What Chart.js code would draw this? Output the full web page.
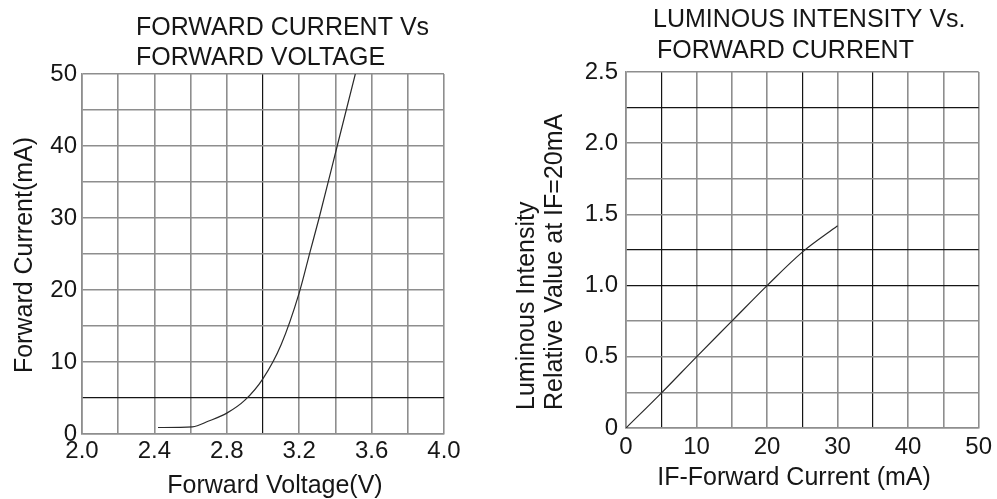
<!DOCTYPE html>
<html>
<head>
<meta charset="utf-8">
<script src="https://cdn.jsdelivr.net/npm/chart.js@4/dist/chart.umd.min.js"></script>
<style>
  html, body { margin: 0; padding: 0; background: #fff; overflow: hidden; }
  #wrap { position: relative; width: 997px; height: 499px; }
  canvas { position: absolute; top: 0; }
  #ivChart { left: 0; }
  #lumChart { left: 490px; }
</style>
</head>
<body>
<div id="wrap">
  <canvas id="ivChart" width="490" height="499"></canvas>
  <canvas id="lumChart" width="507" height="499"></canvas>
</div>
<script>
// Forward current vs forward voltage (typical curve)
const forwardVoltage = [2.42, 2.61, 2.70, 2.80, 2.90, 3.00, 3.10, 3.20, 3.26, 3.31, 3.41, 3.51];
const forwardCurrent = [0.9, 1.0, 1.8, 2.9, 4.7, 7.7, 12.4, 19.6, 25.3, 30.0, 40.0, 50.0];
const voltageTickLabels = ['2.0', '2.4', '2.8', '3.2', '3.6', '4.0'];
const currentTickLabels = ['0', '10', '20', '30', '40', '50'];

// Relative luminous intensity vs forward current
const driveCurrent = [0, 5, 10, 15, 20, 25, 30];
const relativeIntensity = [0, 0.245, 0.5, 0.75, 1.0, 1.235, 1.42];
const driveTickLabels = ['0', '10', '20', '30', '40', '50'];
const intensityTickLabels = ['0', '0.5', '1.0', '1.5', '2.0', '2.5'];

const ivTitle = ['FORWARD CURRENT Vs', 'FORWARD VOLTAGE'];
const ivXTitle = 'Forward Voltage(V)';
const ivYTitle = 'Forward Current(mA)';
const lumTitle = ['LUMINOUS INTENSITY Vs.', 'FORWARD CURRENT'];
const lumXTitle = 'IF-Forward Current (mA)';
const lumYTitle = ['Luminous Intensity', 'Relative Value at IF=20mA'];

const FONT = "'Liberation Sans', Arial, 'DejaVu Sans', sans-serif";
const TEXT = '#161616';
const GRID = '#8e8e8e';
const GRID_DARK = '#151515';

const near = (a, b) => Math.abs(a - b) < 1e-6;
const labelFor = (labels) => (value) => {
  const hit = labels.find(l => near(parseFloat(l), value));
  return hit === undefined ? '' : hit;
};
const gridStyle = (darkValues) => ({
  color: (c) => (c.tick && darkValues.some(v => near(v, c.tick.value))) ? GRID_DARK : GRID,
  lineWidth: (c) => (c.tick && darkValues.some(v => near(v, c.tick.value))) ? 1.2 : 1.6,
  drawTicks: false
});

// Draws chart titles and axis titles at offsets from the plot area
const captions = {
  id: 'captions',
  afterDraw(chart, args, opts) {
    const { ctx, chartArea: a } = chart;
    ctx.save();
    ctx.fillStyle = TEXT;
    for (const t of opts.items) {
      ctx.save();
      ctx.font = t.font;
      ctx.translate(a[t.xFrom] + t.dx, a[t.yFrom] + t.dy);
      if (t.rotate) ctx.rotate(t.rotate);
      ctx.textAlign = t.align;
      ctx.textBaseline = t.baseline;
      ctx.fillText(t.text, 0, 0);
      ctx.restore();
    }
    ctx.restore();
  }
};

function linearAxis(min, max, step, labels, darkValues, fit, pad) {
  return {
    type: 'linear',
    min, max,
    afterFit: fit,
    border: { display: true, color: GRID, width: 1.6 },
    grid: gridStyle(darkValues),
    ticks: {
      stepSize: step,
      autoSkip: false,
      maxRotation: 0,
      minRotation: 0,
      padding: pad,
      color: TEXT,
      font: { family: FONT, size: 24 },
      callback: labelFor(labels)
    }
  };
}

const titleFont = `25px ${FONT}`;
const axisFont = `25px ${FONT}`;

new Chart(document.getElementById('ivChart'), {
  type: 'scatter',
  data: {
    datasets: [{
      data: forwardVoltage.map((v, i) => ({ x: v, y: forwardCurrent[i] })),
      showLine: true,
      borderColor: '#2a2a2a',
      borderWidth: 1.2,
      pointRadius: 0,
      cubicInterpolationMode: 'monotone'
    }]
  },
  options: {
    responsive: false,
    animation: false,
    layout: { padding: { left: 0, right: 46, top: 74, bottom: 0 } },
    scales: {
      x: linearAxis(2, 4, 0.2, voltageTickLabels, [3.0], s => { s.height = 65; }, 3),
      y: linearAxis(0, 50, 5, currentTickLabels, [5], s => { s.width = 82; }, 5)
    },
    plugins: {
      legend: { display: false },
      tooltip: { enabled: false },
      captions: {
        items: [
          { text: ivTitle[0], font: titleFont, xFrom: 'left', dx: 54, yFrom: 'top', dy: -39, align: 'left', baseline: 'alphabetic' },
          { text: ivTitle[1], font: titleFont, xFrom: 'left', dx: 54, yFrom: 'top', dy: -9, align: 'left', baseline: 'alphabetic' },
          { text: ivXTitle, font: axisFont, xFrom: 'left', dx: 193, yFrom: 'bottom', dy: 59, align: 'center', baseline: 'alphabetic' },
          { text: ivYTitle, font: axisFont, xFrom: 'left', dx: -57, yFrom: 'top', dy: 181, align: 'center', baseline: 'middle', rotate: -Math.PI / 2 }
        ]
      }
    }
  },
  plugins: [captions]
});

new Chart(document.getElementById('lumChart'), {
  type: 'scatter',
  data: {
    datasets: [{
      data: driveCurrent.map((v, i) => ({ x: v, y: relativeIntensity[i] })),
      showLine: true,
      borderColor: '#2a2a2a',
      borderWidth: 1.2,
      pointRadius: 0,
      cubicInterpolationMode: 'monotone'
    }]
  },
  options: {
    responsive: false,
    animation: false,
    layout: { padding: { left: 0, right: 16, top: 72, bottom: 0 } },
    scales: {
      x: linearAxis(0, 50, 5, driveTickLabels, [5, 25, 35], s => { s.height = 71; }, 5),
      y: linearAxis(0, 2.5, 0.25, intensityTickLabels, [2.25, 1.25, 1.0], s => { s.width = 136; }, 8)
    },
    plugins: {
      legend: { display: false },
      tooltip: { enabled: false },
      captions: {
        items: [
          { text: lumTitle[0], font: titleFont, xFrom: 'left', dx: 27, yFrom: 'top', dy: -45, align: 'left', baseline: 'alphabetic' },
          { text: lumTitle[1], font: titleFont, xFrom: 'left', dx: 31, yFrom: 'top', dy: -14, align: 'left', baseline: 'alphabetic' },
          { text: lumXTitle, font: axisFont, xFrom: 'left', dx: 168, yFrom: 'bottom', dy: 57, align: 'center', baseline: 'alphabetic' },
          { text: lumYTitle[0], font: axisFont, xFrom: 'left', dx: -99, yFrom: 'bottom', dy: -18, align: 'left', baseline: 'middle', rotate: -Math.PI / 2 },
          { text: lumYTitle[1], font: axisFont, xFrom: 'left', dx: -71, yFrom: 'bottom', dy: -18, align: 'left', baseline: 'middle', rotate: -Math.PI / 2 }
        ]
      }
    }
  },
  plugins: [captions]
});
</script>
</body>
</html>
